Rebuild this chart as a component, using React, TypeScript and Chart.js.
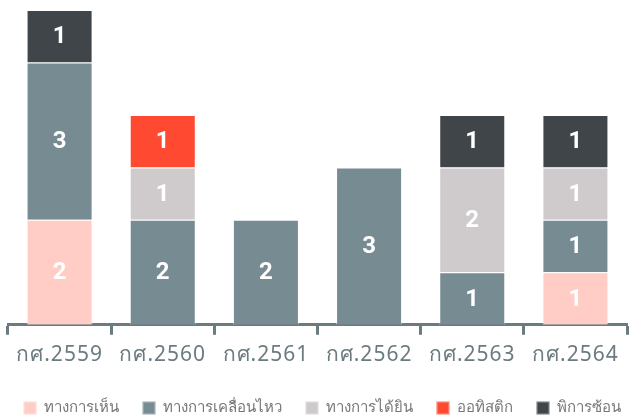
import React, { useEffect, useRef } from "react";
import { Chart, registerables } from "chart.js";

Chart.register(...registerables);

const categories = ["กศ.2559", "กศ.2560", "กศ.2561", "กศ.2562", "กศ.2563", "กศ.2564"];
const seriesNames = ["ทางการเห็น", "ทางการเคลื่อนไหว", "ทางการได้ยิน", "ออทิสติก", "พิการซ้อน"];
const visual = [2, 0, 0, 0, 0, 1];
const movement = [3, 2, 2, 3, 1, 1];
const hearing = [0, 1, 0, 0, 2, 1];
const autism = [0, 1, 0, 0, 0, 0];
const multiple = [1, 0, 0, 0, 1, 1];
const colors = ["#ffcdc6", "#778b93", "#cfcbcc", "#ff4a31", "#3f4548"];

const spacingPlugin = {
  id: "tickSpacing",
  beforeLayout(chart: any) {
    chart.ctx.letterSpacing = "1px";
  },
  beforeDraw(chart: any) {
    chart.ctx.letterSpacing = "1px";
  },
};

const labelPlugin = {
  id: "barLabels",
  afterDatasetsDraw(chart: any) {
    const ctx = chart.ctx;
    ctx.save();
    ctx.letterSpacing = "0px";
    ctx.fillStyle = "#ffffff";
    ctx.font = "bold 24px Roboto, sans-serif";
    ctx.textAlign = "center";
    ctx.textBaseline = "middle";
    chart.data.datasets.forEach((ds: any, i: number) => {
      const meta = chart.getDatasetMeta(i);
      meta.data.forEach((bar: any, j: number) => {
        const v = ds.data[j];
        if (!v) return;
        ctx.fillText(String(v), bar.x, (bar.y + bar.base) / 2 + 1);
      });
    });
    ctx.restore();
  },
};

const legendPlugin = {
  id: "customLegend",
  afterDraw(chart: any) {
    const ctx = chart.ctx;
    ctx.save();
    ctx.letterSpacing = "0px";
    ctx.font = "15px 'Noto Sans', sans-serif";
    ctx.textBaseline = "middle";
    ctx.textAlign = "left";
    const box = 13;
    const gapBoxText = 7;
    const gapItems = 24;
    const items = chart.data.datasets.map((ds: any) => ({
      label: ds.label,
      color: ds.backgroundColor,
      w: ctx.measureText(ds.label).width,
    }));
    const total =
      items.reduce((s: number, it: any) => s + box + gapBoxText + it.w, 0) +
      gapItems * (items.length - 1);
    let x = (chart.width - total) / 2 + 7;
    const cy = chart.height - 8;
    items.forEach((it: any) => {
      ctx.fillStyle = it.color;
      ctx.fillRect(x, cy - box / 2, box, box);
      ctx.strokeStyle = "rgba(255,255,255,0.45)";
      ctx.lineWidth = 1;
      ctx.strokeRect(x + 0.5, cy - box / 2 + 0.5, box - 1, box - 1);
      x += box + gapBoxText;
      ctx.fillStyle = "#777777";
      ctx.fillText(it.label, x, cy);
      x += it.w + gapItems;
    });
    ctx.restore();
  },
};

export default function App() {
  const ref = useRef<HTMLCanvasElement>(null);
  useEffect(() => {
    const values = [visual, movement, hearing, autism, multiple];
    const chart = new Chart(ref.current!, {
      type: "bar",
      data: {
        labels: categories,
        datasets: seriesNames.map((name, i) => ({
          label: name,
          data: values[i],
          backgroundColor: colors[i],
          borderColor: "rgba(255,255,255,0.45)",
          borderWidth: 1,
          barPercentage: 0.8,
          categoryPercentage: 0.8,
        })),
      },
      options: {
        animation: false,
        responsive: true,
        maintainAspectRatio: false,
        layout: { padding: { left: 8, right: 3, top: 10, bottom: 40 } },
        plugins: {
          tooltip: { enabled: false },
          legend: { display: false },
        },
        scales: {
          x: {
            stacked: true,
            border: { display: true, color: "#6b7b80", width: 3 },
            grid: {
              offset: true,
              drawOnChartArea: false,
              tickLength: 10,
              tickColor: "#6b7b80",
              tickWidth: 3,
            },
            ticks: {
              color: "#6b7b80",
              padding: 8,
              font: { size: 21, family: "'Noto Sans', sans-serif" },
            },
          },
          y: {
            stacked: true,
            display: false,
            min: 0,
            max: 6,
          },
        },
      },
      plugins: [spacingPlugin, labelPlugin, legendPlugin],
    });
    return () => chart.destroy();
  }, []);
  return (
    <div style={{ position: "fixed", left: 0, top: 0, width: 630, height: 416 }}>
      <canvas ref={ref} />
    </div>
  );
}
